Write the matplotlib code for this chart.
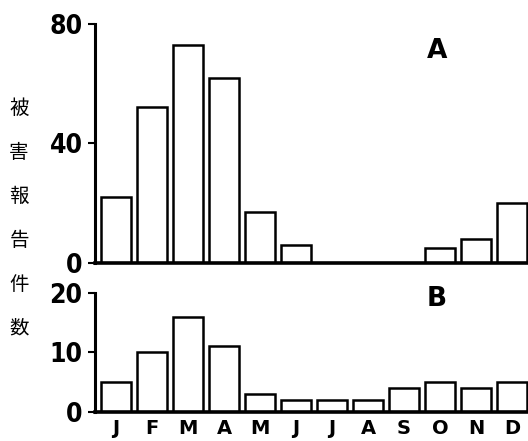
import numpy as np
import matplotlib
matplotlib.use("Agg")
import matplotlib.pyplot as plt

# monthly damage report counts
months = ["J", "F", "M", "A", "M", "J", "J", "A", "S", "O", "N", "D"]
counts_a = [22, 52, 73, 62, 17, 6, 0, 0, 0, 5, 8, 20]
counts_b = [5, 10, 16, 11, 3, 2, 2, 2, 4, 5, 4, 5]
yticks_a = [0, 40, 80]
yticks_b = [0, 10, 20]
ylabel_chars = list("被害報告件数")

num_font = dict(family="DejaVu Sans", weight="bold", stretch="condensed")

fig = plt.figure(figsize=(5.28, 4.41), dpi=100)
ax_a = fig.add_axes([0.18, 0.404, 0.82, 0.542])
ax_b = fig.add_axes([0.18, 0.066, 0.82, 0.27])

x = np.arange(len(months))

def style(ax, vals, ticks, ymax, letter, ly):
    ax.bar(x, vals, width=0.83, color="white", edgecolor="black", linewidth=1.8)
    ax.set_xlim(-0.58, 11.44)
    ax.set_ylim(0, ymax)
    ax.spines["top"].set_visible(False)
    ax.spines["right"].set_visible(False)
    ax.spines["left"].set_linewidth(2.2)
    ax.spines["bottom"].set_linewidth(2.6)
    ax.set_yticks(ticks)
    ax.set_yticklabels([str(t) for t in ticks], fontsize=19, **num_font)
    ax.tick_params(axis="y", length=5, width=1.5, pad=4)
    ax.text(0.79, ly, letter, transform=ax.transAxes,
            fontsize=19, fontweight="bold", ha="center", va="center")

style(ax_a, counts_a, yticks_a, 80, "A", 0.885)
style(ax_b, counts_b, yticks_b, 20, "B", 0.95)

ax_a.set_xticks([])
ax_b.set_xticks(x)
ax_b.set_xticklabels(months, fontsize=14, fontweight="bold")
ax_b.tick_params(axis="x", length=0, pad=5)

for i, ch in enumerate(ylabel_chars):
    fig.text(0.036, 1 - (108 + i * 44) / 441, ch, fontsize=14,
             family=["Noto Sans CJK JP", "DejaVu Sans"], ha="center", va="center")

fig.savefig("out.png", dpi=100)
